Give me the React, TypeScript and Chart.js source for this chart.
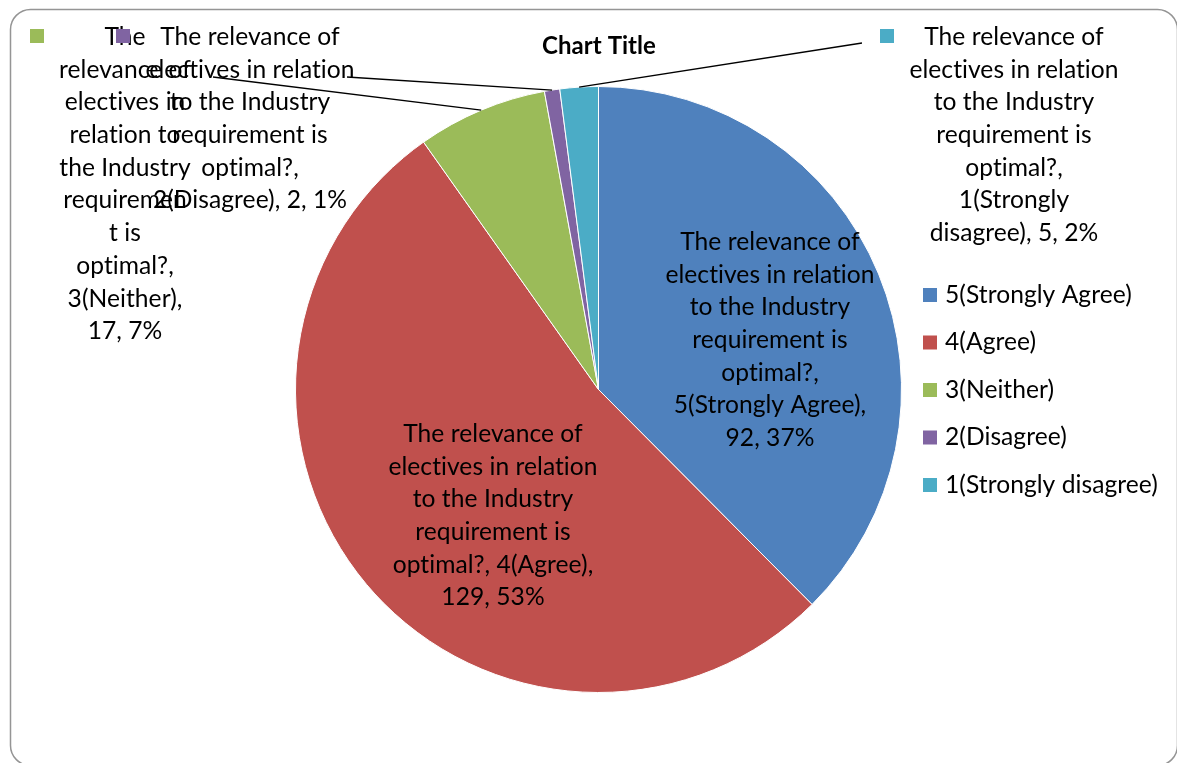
import React, { useEffect, useRef } from "react";
import { Chart, registerables } from "chart.js";

Chart.register(...registerables);

const titleText = "Chart Title";
const seriesName = "The relevance of electives in relation to the Industry requirement is optimal?";
const categories = ["5(Strongly Agree)", "4(Agree)", "3(Neither)", "2(Disagree)", "1(Strongly disagree)"];
const values = [92, 129, 17, 2, 5];
const colors = ["#4F81BD", "#C0504D", "#9BBB59", "#8064A2", "#4BACC6"];

// series name broken the way the reference wraps it
const nameLines = ["The relevance of", "electives in relation", "to the Industry", "requirement is", "optimal?,"];
const narrowNameLines = ["The", "relevance of", "electives in", "relation to", "the Industry", "requiremen", "t is", "optimal?,"];

const FONT = "Lato, 'Open Sans', sans-serif";
const FONT_SIZE = 24.6;
const LINE_H = 32.7;

const total = values.reduce((a, b) => a + b, 0);

// whole percentages that add up to 100 (largest remainder), as the reference shows
function roundedPercents(vals: number[]): number[] {
  const raw = vals.map((v) => (v / total) * 100);
  const floors = raw.map((r) => Math.floor(r));
  let left = 100 - floors.reduce((a, b) => a + b, 0);
  const order = raw.map((r, i) => ({ i, rem: r - Math.floor(r) })).sort((a, b) => b.rem - a.rem);
  for (const o of order) {
    if (left <= 0) break;
    floors[o.i] += 1;
    left -= 1;
  }
  return floors;
}
const pcts = roundedPercents(values);

function labelLines(i: number): string[] {
  const cat = categories[i];
  const tail = `${values[i]}, ${pcts[i]}%`;
  switch (i) {
    case 0:
      return [...nameLines, `${cat},`, tail];
    case 1:
      return [...nameLines.slice(0, 4), `${nameLines[4]} ${cat},`, tail];
    case 2:
      return [...narrowNameLines, `${cat},`, tail];
    case 3:
      return [...nameLines, `${cat}, ${tail}`];
    default: {
      const parts = cat.split(" ");
      return [...nameLines, parts[0], `${parts.slice(1).join(" ")}, ${tail}`];
    }
  }
}

// label layout: center x, first line y, optional key square, optional leader anchor
const labelLayout = [
  { cx: 770, y0: 242 },
  { cx: 493, y0: 434 },
  { cx: 125, y0: 37, key: [30, 29], anchor: [213, 77] },
  { cx: 250, y0: 37, key: [116, 29], anchor: [347, 77] },
  { cx: 1014, y0: 37, key: [880, 29], anchor: [862, 43] },
];

const legendX = 923;
const legendY0 = 295;
const legendStep = 47.5;

const decorPlugin = {
  id: "decor",
  afterDraw(chart: any) {
    const ctx = chart.ctx as CanvasRenderingContext2D;
    const meta = chart.getDatasetMeta(0);
    ctx.save();

    // outer rounded border
    ctx.strokeStyle = "#959595";
    ctx.lineWidth = 1.5;
    ctx.beginPath();
    (ctx as any).roundRect(10.5, 9.5, 1167, 756, 20);
    ctx.stroke();

    try {
      (ctx as any).letterSpacing = "0.05px";
    } catch (e) {}

    // title
    ctx.fillStyle = "#000";
    ctx.font = `bold 24px ${FONT}`;
    ctx.textAlign = "center";
    ctx.textBaseline = "middle";
    ctx.fillText(titleText, 599, 46);

    // leader lines
    ctx.strokeStyle = "#000";
    ctx.lineWidth = 1.3;
    labelLayout.forEach((lay: any, i) => {
      if (!lay.anchor) return;
      const arc = meta.data[i];
      const mid = (arc.startAngle + arc.endAngle) / 2;
      const px = arc.x + arc.outerRadius * Math.cos(mid);
      const py = arc.y + arc.outerRadius * Math.sin(mid);
      ctx.beginPath();
      ctx.moveTo(px, py);
      ctx.lineTo(lay.anchor[0], lay.anchor[1]);
      ctx.stroke();
    });

    // data labels
    ctx.font = `${FONT_SIZE}px ${FONT}`;
    ctx.textAlign = "center";
    ctx.textBaseline = "middle";
    [0, 1, 2, 3, 4].forEach((i) => {
      const lay: any = labelLayout[i];
      if (lay.key) {
        ctx.fillStyle = colors[i];
        ctx.fillRect(lay.key[0], lay.key[1], 14, 14);
      }
      ctx.fillStyle = "#000";
      labelLines(i).forEach((line, k) => {
        ctx.fillText(line, lay.cx, lay.y0 + k * LINE_H);
      });
    });

    // legend
    ctx.textAlign = "left";
    categories.forEach((cat, i) => {
      const y = legendY0 + i * legendStep;
      ctx.fillStyle = colors[i];
      ctx.fillRect(legendX, y - 7, 14, 14);
      ctx.fillStyle = "#000";
      ctx.fillText(cat, legendX + 22, y);
    });

    ctx.restore();
  },
};

export default function App() {
  const canvasRef = useRef<HTMLCanvasElement | null>(null);

  useEffect(() => {
    const canvas = canvasRef.current;
    if (!canvas) return;
    const chart = new Chart(canvas, {
      type: "pie",
      data: {
        labels: categories,
        datasets: [
          {
            label: seriesName,
            data: values,
            backgroundColor: colors,
            borderColor: "#ffffff",
            borderWidth: 1,
          },
        ],
      },
      options: {
        responsive: false,
        maintainAspectRatio: false,
        animation: false,
        devicePixelRatio: 1,
        layout: { padding: { top: 86, bottom: 70, left: 295, right: 275 } },
        plugins: {
          legend: { display: false },
          title: { display: false },
          tooltip: { enabled: false },
        },
      },
      plugins: [decorPlugin],
    });
    return () => chart.destroy();
  }, []);

  return (
    <div style={{ position: "fixed", left: 0, top: 0, width: 1177, height: 763, background: "#fff" }}>
      <canvas ref={canvasRef} width={1177} height={763} />
    </div>
  );
}
